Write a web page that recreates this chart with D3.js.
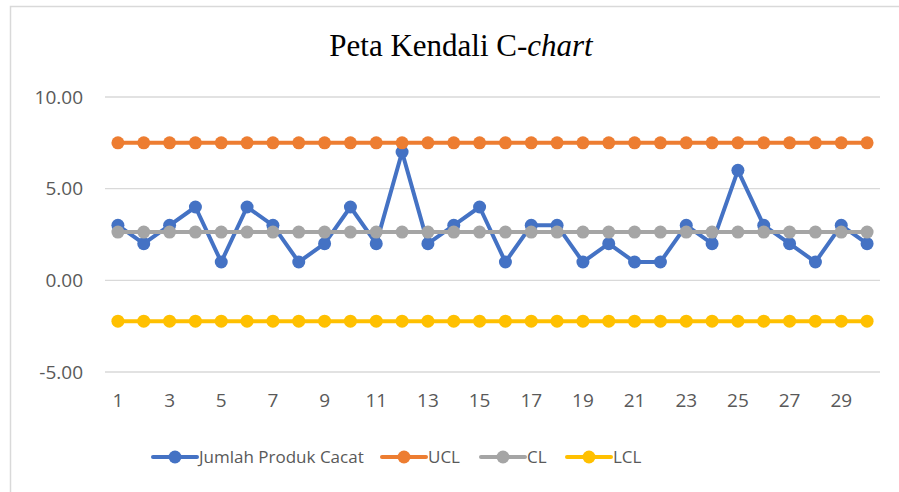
<!DOCTYPE html>
<meta charset="utf-8">
<style>
  body { margin: 0; background: #fff; }
  text { font-family: "Open Sans", "Liberation Sans", sans-serif; fill: #595959; }
</style>
<body>
<script src="https://cdn.jsdelivr.net/npm/d3@7"></script>
<script>

var w = 899,
    h = 492;

// data
var samples = d3.range(1, 31);
var defects = [3, 2, 3, 4, 1, 4, 3, 1, 2, 4, 2, 7, 2, 3, 4, 1, 3, 3, 1, 2, 1, 1, 3, 2, 6, 3, 2, 1, 3, 2];
var ucl = 7.50, cl = 2.63, lcl = -2.23;
var yTicks = [-5, 0, 5, 10];
var seriesNames = ["Jumlah Produk Cacat", "UCL", "CL", "LCL"];
var colors = ["#4472C4", "#ED7D31", "#A5A5A5", "#FFC000"];

var series = [
  defects,
  samples.map(function() { return ucl; }),
  samples.map(function() { return cl; }),
  samples.map(function() { return lcl; })
];

var svg = d3.select("body").append("svg")
    .attr("width", w)
    .attr("height", h);

// chart frame
svg.append("rect")
    .attr("x", 10.5)
    .attr("y", 6.5)
    .attr("width", 900)
    .attr("height", 500)
    .attr("fill", "none")
    .attr("stroke", "#d9d9d9")
    .attr("stroke-width", 1.5);

var x = d3.scaleBand()
    .domain(samples)
    .range([105, 880]);

var y = d3.scaleLinear()
    .domain([-5, 10])
    .range([372, 97]);

// gridlines
svg.append("g").selectAll("line")
    .data(yTicks)
  .enter().append("line")
    .attr("x1", 105)
    .attr("x2", 880)
    .attr("y1", function(d) { return y(d); })
    .attr("y2", function(d) { return y(d); })
    .attr("stroke", "#d9d9d9")
    .attr("stroke-width", 1.3);

// y labels
svg.append("g").selectAll("text")
    .data(yTicks)
  .enter().append("text")
    .attr("x", 83)
    .attr("y", function(d) { return y(d); })
    .attr("dy", "0.35em")
    .attr("text-anchor", "end")
    .style("font-size", "19px")
    .text(function(d) { return d3.format(".2f")(d).replace("\u2212", "-"); });

// x labels (every other)
svg.append("g").selectAll("text")
    .data(samples.filter(function(d) { return d % 2 === 1; }))
  .enter().append("text")
    .attr("x", function(d) { return x(d) + x.bandwidth() / 2; })
    .attr("y", 407)
    .attr("text-anchor", "middle")
    .style("font-size", "19px")
    .text(function(d) { return d; });

// title
var title = svg.append("text")
    .attr("x", 461)
    .attr("y", 56)
    .attr("text-anchor", "middle")
    .style("font-family", "'Liberation Serif', 'Times New Roman', serif")
    .style("font-size", "31px")
    .style("fill", "#000");
title.append("tspan").text("Peta Kendali C-");
title.append("tspan").style("font-style", "italic").text("chart");

// series
var line = d3.line()
    .x(function(d, i) { return x(samples[i]) + x.bandwidth() / 2; })
    .y(function(d) { return y(d); });

series.forEach(function(vals, k) {
  var g = svg.append("g");
  g.append("path")
      .attr("d", line(vals))
      .attr("fill", "none")
      .attr("stroke", colors[k])
      .attr("stroke-width", 4)
      .attr("stroke-linejoin", "round")
      .attr("stroke-linecap", "round");
  g.selectAll("circle")
      .data(vals)
    .enter().append("circle")
      .attr("cx", function(d, i) { return x(samples[i]) + x.bandwidth() / 2; })
      .attr("cy", function(d) { return y(d); })
      .attr("r", 6.5)
      .attr("fill", colors[k]);
});

// legend
var legendX = [153, 382, 481, 567];
var legend = svg.append("g").selectAll("g")
    .data(seriesNames)
  .enter().append("g")
    .attr("transform", function(d, i) { return "translate(" + legendX[i] + ",457)"; });

legend.append("line")
    .attr("x1", 0)
    .attr("x2", 44)
    .attr("stroke", function(d, i) { return colors[i]; })
    .attr("stroke-width", 4)
    .attr("stroke-linecap", "round");

legend.append("circle")
    .attr("cx", 22)
    .attr("r", 6.5)
    .attr("fill", function(d, i) { return colors[i]; });

legend.append("text")
    .attr("x", 46)
    .attr("dy", "0.35em")
    .style("font-size", "17px")
    .text(function(d) { return d; });

</script>
